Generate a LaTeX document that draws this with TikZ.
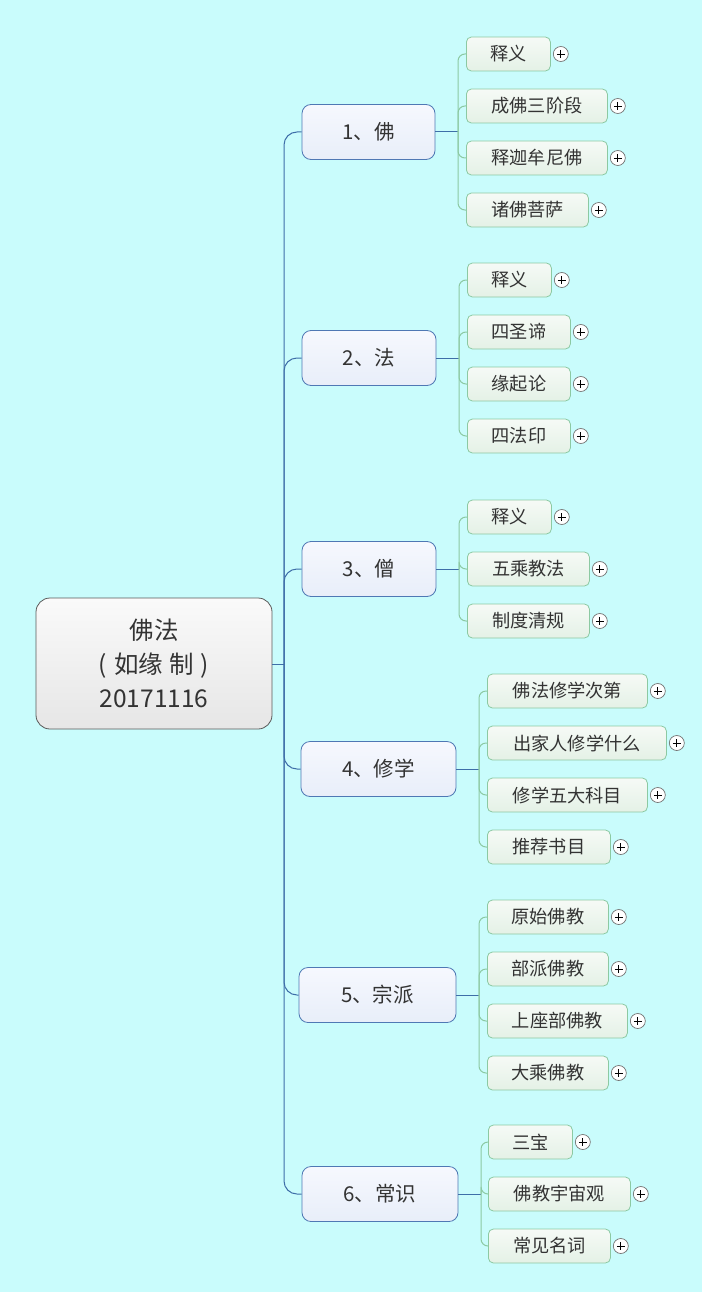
\documentclass[tikz,border=0pt]{standalone}
\usepackage{fontspec}
\newfontfamily\cjk{Noto Sans CJK SC}
\usetikzlibrary{calc}
\definecolor{bgc}{HTML}{C9FCFC}
\definecolor{rootb}{HTML}{5A5A5A}
\definecolor{roott}{HTML}{FAFAFA}
\definecolor{rootbt}{HTML}{E6E6E6}
\definecolor{mainb}{HTML}{4F78B4}
\definecolor{maint}{HTML}{F6F8FE}
\definecolor{mainbt}{HTML}{E8EEF9}
\definecolor{mainl}{HTML}{3E6EA8}
\definecolor{leafb}{HTML}{8CC9A2}
\definecolor{leaft}{HTML}{F6FAF6}
\definecolor{leafbt}{HTML}{E4F1E6}
\definecolor{txt}{HTML}{333333}
\tikzset{
  rootbox/.style={draw=rootb, line width=0.8pt, rounded corners=14pt, top color=roott, bottom color=rootbt,
    minimum width=236pt, minimum height=131pt, inner sep=0pt, align=center, text=txt,
    font=\cjk\fontsize{24.5}{34}\selectfont},
  mainbox/.style={draw=mainb, line width=0.8pt, rounded corners=9pt, top color=maint, bottom color=mainbt,
    minimum height=55pt, inner sep=0pt, text=txt, font=\cjk\fontsize{20.5}{24}\selectfont},
  leafbox/.style={draw=leafb, line width=0.8pt, rounded corners=5pt, top color=leaft, bottom color=leafbt,
    minimum height=34pt, inner sep=0pt, anchor=west, text=txt, font=\cjk\fontsize{18.2}{20}\selectfont},
  mainline/.style={draw=mainl, line width=1pt},
  leafline/.style={draw=leafb, line width=1pt, rounded corners=7pt},
  plusbtn/.style={circle, draw=black!55, fill=white, line width=0.7pt, minimum size=15pt, inner sep=0pt,
    path picture={\draw[black, line width=0.9pt] ($(path picture bounding box.center)+(-4,0)$) -- ($(path picture bounding box.center)+(4,0)$)
      ($(path picture bounding box.center)+(0,-4)$) -- ($(path picture bounding box.center)+(0,4)$);}},
}
\newcommand\mmleaf[5]{% name, x, y, width, text
  \node[leafbox, minimum width=#4pt] (#1) at (#2,#3) {#5};
  \node[plusbtn] (#1p) at ($(#1.east)+(10,0)$) {};
}
\begin{document}
\begin{tikzpicture}[x=1pt,y=-1pt]
\fill[bgc] (0,0) rectangle (702,1292);
\useasboundingbox (0,0) rectangle (702,1292);

% root
\node[rootbox] (root) at (154,663.5) {佛法\\(\hspace{7pt}如缘\hspace{6pt}制\hspace{7pt})\\20171116};
\coordinate (trunk) at (284,664);

% first level
\node[mainbox, minimum width=133pt] (n1) at (368.5,132) {1、佛};
\node[mainbox, minimum width=134pt] (n2) at (369,358) {2、法};
\node[mainbox, minimum width=134pt] (n3) at (369,569) {3、僧};
\node[mainbox, minimum width=155pt] (n4) at (378.5,769) {4、修学};
\node[mainbox, minimum width=157pt] (n5) at (377.5,995) {5、宗派};
\node[mainbox, minimum width=156pt] (n6) at (380,1194) {6、常识};

\draw[mainline] (root.east |- trunk) -- (trunk);
\foreach \n in {n1,n2,n3,n4,n5,n6}
  \draw[mainline, rounded corners=13pt] (trunk) |- (\n.west);

% spines
\coordinate (s1) at (458,132);
\coordinate (s2) at (459,358);
\coordinate (s3) at (459,569);
\coordinate (s4) at (479,769);
\coordinate (s5) at (479,995);
\coordinate (s6) at (481,1194);
\foreach \n/\s in {n1/s1,n2/s2,n3/s3,n4/s4,n5/s5,n6/s6}
  \draw[mainline] (\n.east) -- (\s);

% group 1
\mmleaf{a1}{466}{54}{84}{释义}
\mmleaf{a2}{466}{106}{141}{成佛三阶段}
\mmleaf{a3}{466}{158}{141}{释迦牟尼佛}
\mmleaf{a4}{466}{210}{122}{诸佛菩萨}
% group 2
\mmleaf{b1}{467}{280}{84}{释义}
\mmleaf{b2}{467}{332}{103}{四圣谛}
\mmleaf{b3}{467}{384}{103}{缘起论}
\mmleaf{b4}{467}{436}{103}{四法印}
% group 3
\mmleaf{c1}{467}{517}{84}{释义}
\mmleaf{c2}{467}{569}{122}{五乘教法}
\mmleaf{c3}{467}{621}{122}{制度清规}
% group 4
\mmleaf{d1}{487}{691}{160}{佛法修学次第}
\mmleaf{d2}{487}{743}{179}{出家人修学什么}
\mmleaf{d3}{487}{795}{160}{修学五大科目}
\mmleaf{d4}{487}{847}{123}{推荐书目}
% group 5
\mmleaf{e1}{487}{917}{121}{原始佛教}
\mmleaf{e2}{487}{969}{121}{部派佛教}
\mmleaf{e3}{487}{1021}{140}{上座部佛教}
\mmleaf{e4}{487}{1073}{121}{大乘佛教}
% group 6
\mmleaf{f1}{488}{1142}{84}{三宝}
\mmleaf{f2}{488}{1194}{142}{佛教宇宙观}
\mmleaf{f3}{488}{1246}{122}{常见名词}

\foreach \l in {a1,a2,a3,a4} \draw[leafline] (s1) |- (\l.west);
\foreach \l in {b1,b2,b3,b4} \draw[leafline] (s2) |- (\l.west);
\foreach \l in {c1,c2,c3} \draw[leafline] (s3) |- (\l.west);
\foreach \l in {d1,d2,d3,d4} \draw[leafline] (s4) |- (\l.west);
\foreach \l in {e1,e2,e3,e4} \draw[leafline] (s5) |- (\l.west);
\foreach \l in {f1,f2,f3} \draw[leafline] (s6) |- (\l.west);
\end{tikzpicture}
\end{document}
